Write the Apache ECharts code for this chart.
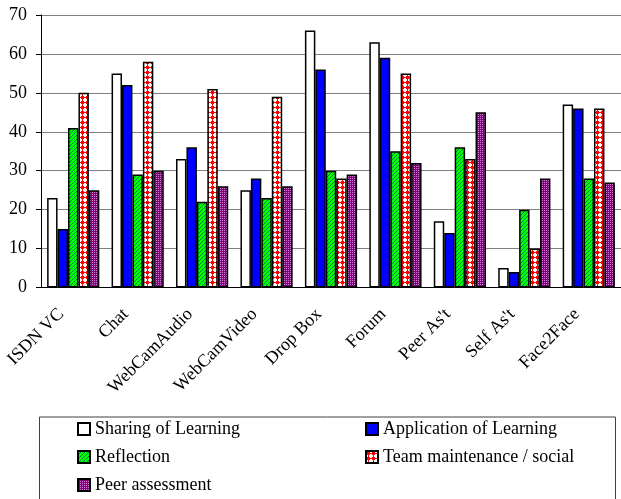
<!DOCTYPE html>
<html><head><meta charset="UTF-8">
<title>ECharts</title>
<script src="https://cdn.jsdelivr.net/npm/echarts@6/dist/echarts.min.js"></script>
<style>html,body{margin:0;padding:0;background:#fff;}</style>
</head>
<body>
<div id="g1" style="width:621px;height:499px;"></div>
<script type="text/javascript">
// data
var categories = ['ISDN VC', 'Chat', 'WebCamAudio', 'WebCamVideo', 'Drop Box', 'Forum', "Peer As't", "Self As't", 'Face2Face'];
var sharing = [23, 55, 33, 25, 66, 63, 17, 5, 47];
var application = [15, 52, 36, 28, 56, 59, 14, 4, 46];
var reflection = [41, 29, 22, 23, 30, 35, 36, 20, 28];
var team = [50, 58, 51, 49, 28, 55, 33, 10, 46];
var peer = [25, 30, 26, 26, 29, 32, 45, 28, 27];
var seriesNames = ['Sharing of Learning', 'Application of Learning', 'Reflection', 'Team maintenance / social', 'Peer assessment'];

// small canvas tiles for the hatched fills
function tile(size, draw) {
    var c = document.createElement('canvas');
    c.width = size; c.height = size;
    var ctx = c.getContext('2d');
    draw(ctx);
    return {image: c, repeat: 'repeat'};
}
var greenFill = tile(4, function(ctx) {
    ctx.fillStyle = '#00ff00'; ctx.fillRect(0, 0, 4, 4);
    ctx.fillStyle = '#008040';
    for (var i = 0; i < 4; i++) { ctx.fillRect(3 - i, i, 1, 1); }
});
var redFill = tile(5, function(ctx) {
    ctx.fillStyle = '#ffffff'; ctx.fillRect(0, 0, 5, 5);
    ctx.fillStyle = '#ff0000';
    ctx.fillRect(0, 2, 5, 1); ctx.fillRect(2, 0, 1, 5);
    ctx.fillRect(1, 1, 3, 3);
});
var purpleFill = tile(2, function(ctx) {
    ctx.fillStyle = '#800080'; ctx.fillRect(0, 0, 2, 2);
    ctx.fillStyle = '#d080d0'; ctx.fillRect(0, 0, 1, 1);
});
var fills = ['#ffffff', '#0000ff', greenFill, redFill, purpleFill];
var values = [sharing, application, reflection, team, peer];

var font = 'Liberation Serif';
var series = [];
for (var i = 0; i < values.length; i++) {
    series.push({
        name: seriesNames[i], type: 'bar', data: values[i],
        barGap: '0%', barCategoryGap: '19%',
        itemStyle: {color: fills[i], borderColor: '#000', borderWidth: 1.5}
    });
}

// one legend per entry so the two columns line up like the original box
var legendPos = [[77, 420], [365, 420], [77, 448], [365, 448], [77, 476]];
var legends = [];
for (var k = 0; k < seriesNames.length; k++) {
    legends.push({
        left: legendPos[k][0], top: legendPos[k][1], padding: 0,
        data: [seriesNames[k]], itemWidth: 12, itemHeight: 12,
        icon: 'rect', selectedMode: false,
        textStyle: {fontFamily: font, fontSize: 18, color: '#000'}
    });
}

var option = {
    animation: false,
    grid: {left: 41, right: -3, top: 15, bottom: 211.5, containLabel: false},
    xAxis: {
        type: 'category', data: categories,
        axisLine: {lineStyle: {color: '#000', width: 1}},
        axisTick: {length: 5, lineStyle: {color: '#000'}},
        axisLabel: {rotate: 45, margin: 12, padding: [0, 17, 0, 0], interval: 0,
            fontFamily: font, fontSize: 18, color: '#000'}
    },
    yAxis: {
        type: 'value', min: 0, max: 70, interval: 10,
        axisLine: {show: true, lineStyle: {color: '#000', width: 1}},
        axisTick: {show: true, length: 5, lineStyle: {color: '#000'}},
        axisLabel: {margin: 14, fontFamily: font, fontSize: 18, color: '#000'},
        splitLine: {lineStyle: {color: '#808080', width: 1}}
    },
    legend: legends,
    graphic: [{
        type: 'rect', left: 37, top: 414.5,
        shape: {width: 576, height: 100},
        style: {fill: 'none', stroke: '#404040', lineWidth: 1}
    }],
    series: series
};

var myChart = echarts.init(document.getElementById('g1'));
myChart.setOption(option);
</script>
</body></html>
